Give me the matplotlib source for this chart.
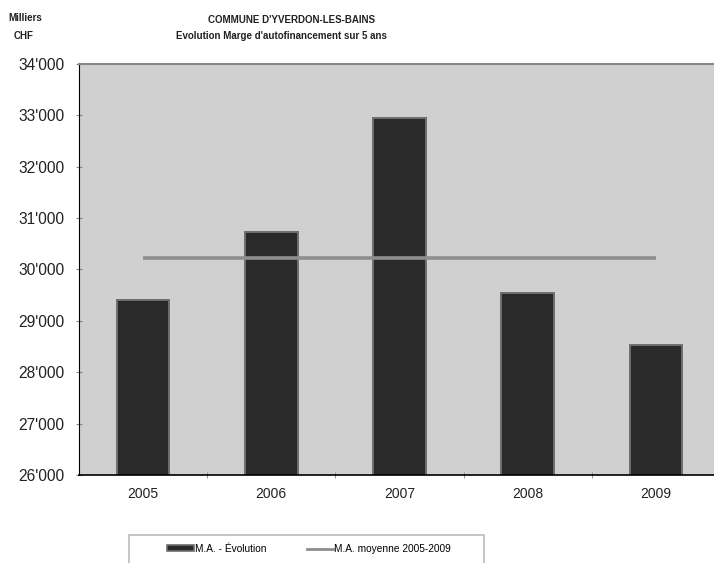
import matplotlib.pyplot as plt
import numpy as np
from matplotlib.ticker import FuncFormatter, MultipleLocator
from matplotlib.patches import Rectangle, Patch
from matplotlib.lines import Line2D

plt.rcParams['font.family'] = ['Liberation Sans', 'DejaVu Sans']

years = ['2005', '2006', '2007', '2008', '2009']
ma_values = [29400, 30730, 32950, 29550, 28530]  # milliers CHF
ma_mean = np.mean(ma_values)

fig = plt.figure(figsize=(7.14, 5.63), dpi=100)
ax = fig.add_axes([79/714, 88/563, 641/714, 411/563])
ax.set_facecolor('#d0d0d0')

x = np.arange(len(years))
ax.bar(x, ma_values, width=0.41, bottom=0, color='#2a2a2a',
       edgecolor='#6e6e6e', linewidth=1.4, zorder=2)
ax.plot([x[0], x[-1]], [ma_mean, ma_mean], color='#8e8e8e', lw=2.6,
        solid_capstyle='butt', zorder=3)

ax.set_ylim(26000, 34000)
ax.set_xlim(-0.5, 4.5)
ax.yaxis.set_major_locator(MultipleLocator(1000))
ax.yaxis.set_major_formatter(FuncFormatter(lambda v, p: f"{int(v)//1000}'{int(v)%1000:03d}"))
ax.set_xticks(x)
ax.set_xticklabels(years)
ax.set_xticks(x[:-1] + 0.5, minor=True)
ax.tick_params(axis='x', which='major', length=0, pad=9, labelsize=10, colors='#222222')
ax.tick_params(axis='x', which='minor', length=5, direction='inout', color='#888888')
ax.tick_params(axis='y', length=5, direction='inout', color='#888888', pad=8,
               labelsize=11.2, labelcolor='#222222')

ax.spines['right'].set_visible(False)
ax.spines['top'].set_color('#888888')
ax.spines['top'].set_linewidth(1.5)
ax.spines['left'].set_color('black')
ax.spines['bottom'].set_color('black')
ax.spines['bottom'].set_linewidth(1.2)

fig.text(291/714, 1-20/563, "COMMUNE D'YVERDON-LES-BAINS", ha='center', va='center',
         fontsize=7, fontweight='bold', color='#222222')
fig.text(281/714, 1-36/563, "Evolution Marge d'autofinancement sur 5 ans", ha='center',
         va='center', fontsize=7, fontweight='bold', color='#222222')
fig.text(25/714, 1-18/563, "Milliers", ha='center', va='center', fontsize=7,
         fontweight='bold', color='#222222')
fig.text(24/714, 1-36/563, "CHF", ha='center', va='center', fontsize=7,
         fontweight='bold', color='#222222')

# legend box (runs off the bottom of the picture)
fig.patches.append(Rectangle((129/714, -0.05), (484-129)/714, 0.05 + (563-535)/563,
                             transform=fig.transFigure, facecolor='white',
                             edgecolor='#bbbbbb', lw=1.2))
handles = [Patch(facecolor='#2a2a2a', edgecolor='#6e6e6e', lw=1.2),
           Line2D([], [], color='#8e8e8e', lw=2)]
fig.legend(handles, ['M.A. - Évolution', 'M.A. moyenne 2005-2009'], ncol=2,
           loc='center', bbox_to_anchor=(309/714, 1-549/563), frameon=False,
           fontsize=7.3, handlelength=2.6, handleheight=0.55,
           handletextpad=0.1, columnspacing=4.0)

fig.savefig('out.png', dpi=100)
